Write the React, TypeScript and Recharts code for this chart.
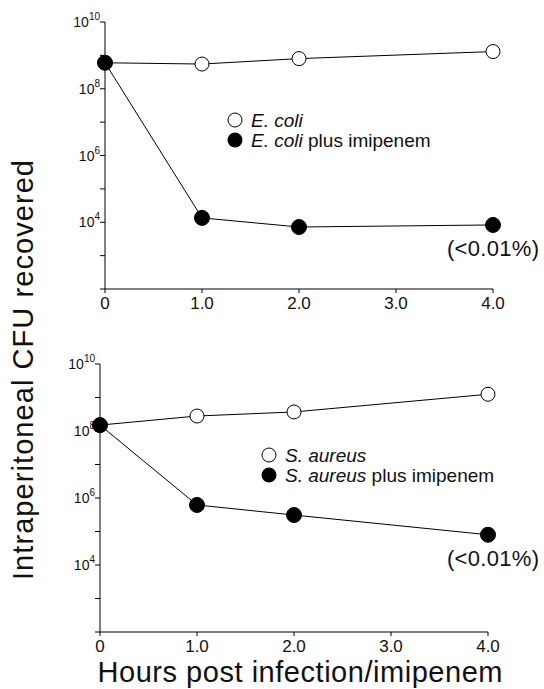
import React from 'react';
import { LineChart, Line, XAxis, YAxis, Legend } from 'recharts';

// hours after infection
const hours = [0, 1, 2, 4];

// CFU recovered
const ecoli = [6e8, 5.5e8, 8e8, 1.3e9];
const ecoliImipenem = [6e8, 1.35e4, 7.2e3, 8.3e3];
const saureus = [1.5e8, 2.8e8, 3.7e8, 1.25e9];
const saureusImipenem = [1.5e8, 6.2e5, 3.1e5, 8e4];

const xTicks = [0, 1, 2, 3, 4];
const yTicks = [1e2, 1e3, 1e4, 1e5, 1e6, 1e7, 1e8, 1e9, 1e10];
const labelledExponents = [4, 6, 8, 10];

const FONT = '"Liberation Sans", Arial, Helvetica, sans-serif';

const topData = hours.map((h, i) => ({ h, plain: ecoli[i], drug: ecoliImipenem[i] }));
const bottomData = hours.map((h, i) => ({ h, plain: saureus[i], drug: saureusImipenem[i] }));

function PowerTick({ x, y, payload }: any) {
  const exp = Math.round(Math.log10(payload.value));
  if (!labelledExponents.includes(exp)) return null;
  return (
    <text x={x} y={y + 5} textAnchor="end" fontSize={14} fontFamily={FONT} fill="#111">
      10
      <tspan dy={-7} fontSize={10}>{exp}</tspan>
    </text>
  );
}

const formatHour = (v: number) => (v === 0 ? '0' : v.toFixed(1));

function LegendBox({ name }: { name: string }) {
  return (
    <svg width={270} height={44} style={{ display: 'block' }}>
      <circle cx={8} cy={9} r={7} fill="#fff" stroke="#000" strokeWidth={1} />
      <circle cx={8} cy={9 + 20} r={7.5} fill="#000" />
      <text x={24} y={16} fontSize={19} fontFamily={FONT} fill="#111">
        <tspan fontStyle="italic">{name}</tspan>
      </text>
      <text x={24} y={36} fontSize={19} fontFamily={FONT} fill="#111">
        <tspan fontStyle="italic">{name}</tspan> plus imipenem
      </text>
    </svg>
  );
}

function Panel({ data, height, margin, legendName, legendPos }: any) {
  return (
    <LineChart width={544} height={height} data={data} margin={margin}>
      <XAxis
        dataKey="h"
        type="number"
        domain={[0, 4]}
        ticks={xTicks}
        tickFormatter={formatHour}
        height={30}
        stroke="#000"
        tickSize={4}
        tickMargin={4}
        tick={{ fontSize: 17, fontFamily: FONT, fill: '#111' }}
      />
      <YAxis
        scale="log"
        domain={[1e2, 1e10]}
        ticks={yTicks}
        width={50}
        stroke="#000"
        tickSize={5}
        tickMargin={0}
        tick={<PowerTick />}
        allowDataOverflow
      />
      <Legend
        layout="vertical"
        align="center"
        verticalAlign="middle"
        wrapperStyle={{ left: legendPos[0], top: legendPos[1], width: 270 }}
        content={() => <LegendBox name={legendName} />}
      />
      <Line
        dataKey="plain"
        stroke="#000"
        strokeWidth={1}
        dot={{ r: 7, fill: '#fff', stroke: '#000', strokeWidth: 1 }}
        isAnimationActive={false}
      />
      <Line
        dataKey="drug"
        stroke="#000"
        strokeWidth={1}
        dot={{ r: 7.5, fill: '#000', stroke: '#000', strokeWidth: 1 }}
        isAnimationActive={false}
      />
    </LineChart>
  );
}

export default function App() {
  return (
    <div style={{ position: 'absolute', left: 0, top: 0, width: 544, height: 689, background: '#fff' }}>
      <div style={{ position: 'absolute', left: 0, top: 0 }}>
        <Panel
          data={topData}
          height={320}
          margin={{ top: 22, right: 51, bottom: 1, left: 55 }}
          legendName="E. coli"
          legendPos={[227, 111]}
        />
      </div>
      <div style={{ position: 'absolute', left: 0, top: 340 }}>
        <Panel
          data={bottomData}
          height={325}
          margin={{ top: 24, right: 56, bottom: 3, left: 50 }}
          legendName="S. aureus"
          legendPos={[261, 106]}
        />
      </div>
      <svg
        width={544}
        height={689}
        style={{ position: 'absolute', left: 0, top: 0, pointerEvents: 'none' }}
      >
        <text x={493} y={256} textAnchor="middle" fontSize={22} fontFamily={FONT} fill="#111" textLength={92}>
          (&lt;0.01%)
        </text>
        <text x={493} y={566} textAnchor="middle" fontSize={22} fontFamily={FONT} fill="#111" textLength={92}>
          (&lt;0.01%)
        </text>
        <text x={300} y={682} textAnchor="middle" fontSize={29} fontFamily={FONT} fill="#111" textLength={405}>
          Hours post infection/imipenem
        </text>
        <text
          transform="translate(33,370) rotate(-90)"
          textAnchor="middle"
          fontSize={29}
          fontFamily={FONT}
          fill="#111"
          textLength={420}
        >
          Intraperitoneal CFU recovered
        </text>
      </svg>
    </div>
  );
}
